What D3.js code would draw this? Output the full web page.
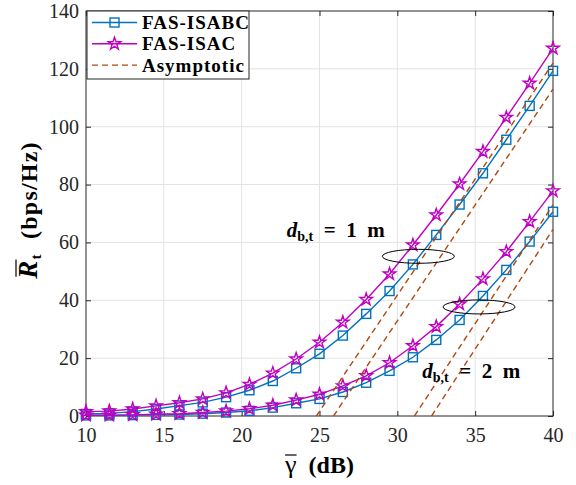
<!DOCTYPE html>
<html>
<head>
<meta charset="utf-8">
<script src="https://cdn.jsdelivr.net/npm/d3@7"></script>
<style>
  body { margin: 0; background: #fff; }
  svg { display: block; font-family: 'Liberation Serif', 'DejaVu Serif', serif; }
  svg text { font-family: 'Liberation Serif', 'DejaVu Serif', serif; }
</style>
</head>
<body>
<div id="chart"></div>
<script>
// SNR grid (dB)
const gammaDb = [10, 11.5, 13, 14.5, 16, 17.5, 19, 20.5, 22, 23.5, 25, 26.5, 28, 29.5, 31, 32.5, 34, 35.5, 37, 38.5, 40];

// d_bt = 1 m
const isabc1m = [0.7, 0.9, 1.5, 2.4, 3.6, 4.7, 6.5, 8.9, 12.1, 16.5, 21.5, 27.8, 35.3, 43.2, 52.4, 62.6, 73.1, 83.9, 95.5, 107.2, 119.3];
const isac1m  = [1.5, 1.7, 2.4, 3.5, 4.6, 5.9, 8.0, 10.9, 14.8, 19.7, 25.5, 32.4, 40.3, 49.1, 59.1, 69.5, 80.2, 91.4, 103.2, 115.0, 127.1];

// d_bt = 2 m
const isabc2m = [0.2, 0.2, 0.3, 0.4, 0.5, 0.8, 1.2, 1.8, 2.9, 4.4, 5.9, 8.3, 11.5, 15.6, 20.3, 26.3, 33.2, 41.5, 50.5, 60.3, 70.6];
const isac2m  = [0.3, 0.3, 0.4, 0.6, 0.8, 1.2, 1.7, 2.5, 3.7, 5.5, 7.5, 10.4, 13.9, 18.4, 24.3, 30.9, 38.7, 47.4, 56.8, 67.2, 77.8];

// asymptotic lines: [start dB, start rate], [end dB, end rate]
const asym1mA = [[24.8, 0], [40, 122]];
const asym1mB = [[25.9, 0], [40, 113]];
const asym2mA = [[31.1, 0], [40, 73]];
const asym2mB = [[32.2, 0], [40, 64.5]];

const xTicks = [10, 15, 20, 25, 30, 35, 40];
const yTicks = [0, 20, 40, 60, 80, 100, 120, 140];

const colors = { isabc: '#0072bd', isac: '#c000c0', asym: '#b0480f' };

const width = 576;
const height = 485;
const margin = { top: 11, right: 23, bottom: 69, left: 86 };

const svg = d3.select('#chart')
  .append('svg')
  .attr('width', width)
  .attr('height', height);

const xScale = d3.scaleLinear().domain([10, 40]).range([margin.left, width - margin.right]);
const yScale = d3.scaleLinear().domain([0, 140]).range([height - margin.bottom, margin.top]);

// grid
const grid = svg.append('g').attr('stroke', '#e3e3e3').attr('stroke-width', 1);
grid.selectAll('.gx').data(xTicks.slice(1, -1)).join('line')
  .attr('x1', (d) => xScale(d)).attr('x2', (d) => xScale(d))
  .attr('y1', yScale(0)).attr('y2', yScale(140));
grid.selectAll('.gy').data(yTicks.slice(1, -1)).join('line')
  .attr('y1', (d) => yScale(d)).attr('y2', (d) => yScale(d))
  .attr('x1', xScale(10)).attr('x2', xScale(40));

// axes
const serif = "'Liberation Serif', 'DejaVu Serif', serif";
function styleAxis(g) {
  g.attr('font-family', serif).attr('font-size', 20);
  g.select('.domain').remove();
  g.selectAll('.tick line').attr('stroke', '#262626');
  g.selectAll('.tick text').attr('fill', '#262626')
    .attr('font-family', serif).style('font-size', '20px');
}

svg.append('g')
  .attr('transform', `translate(0,${yScale(0)})`)
  .call(d3.axisBottom(xScale).tickValues(xTicks).tickSizeInner(-5).tickSizeOuter(0).tickPadding(12))
  .call(styleAxis);

svg.append('g')
  .attr('transform', `translate(${xScale(10)},0)`)
  .call(d3.axisLeft(yScale).tickValues(yTicks).tickSizeInner(-5).tickSizeOuter(0).tickPadding(7))
  .call(styleAxis);

svg.append('g')
  .attr('transform', `translate(0,${yScale(140)})`)
  .call(d3.axisTop(xScale).tickValues(xTicks).tickSizeInner(-5).tickSizeOuter(0).tickFormat(''))
  .call(styleAxis);

svg.append('g')
  .attr('transform', `translate(${xScale(40)},0)`)
  .call(d3.axisRight(yScale).tickValues(yTicks).tickSizeInner(-5).tickSizeOuter(0).tickFormat(''))
  .call(styleAxis);

svg.append('rect')
  .attr('x', xScale(10)).attr('y', yScale(140))
  .attr('width', xScale(40) - xScale(10)).attr('height', yScale(0) - yScale(140))
  .attr('fill', 'none').attr('stroke', '#262626').attr('stroke-width', 1);

// curves
const line = d3.line().x((d) => xScale(d[0])).y((d) => yScale(d[1]));
const plot = svg.append('g');

function drawSeries(values, color, marker) {
  const pts = gammaDb.map((g, i) => [g, values[i]]);
  plot.append('path').datum(pts)
    .attr('d', line).attr('fill', 'none')
    .attr('stroke', color).attr('stroke-width', 1.4);
  const g = plot.append('g');
  if (marker === 'square') {
    g.selectAll('rect').data(pts).join('rect')
      .attr('x', (d) => xScale(d[0]) - 4.5).attr('y', (d) => yScale(d[1]) - 4.5)
      .attr('width', 9).attr('height', 9)
      .attr('fill', 'none').attr('stroke', color).attr('stroke-width', 1.4);
  } else {
    g.selectAll('path').data(pts).join('path')
      .attr('transform', (d) => `translate(${xScale(d[0])},${yScale(d[1])})`)
      .attr('d', d3.symbol(d3.symbolStar, 48))
      .attr('fill', 'none').attr('stroke', color).attr('stroke-width', 1.4);
  }
}

drawSeries(isabc1m, colors.isabc, 'square');
drawSeries(isabc2m, colors.isabc, 'square');
drawSeries(isac1m, colors.isac, 'star');
drawSeries(isac2m, colors.isac, 'star');

[asym1mA, asym1mB, asym2mA, asym2mB].forEach((seg) => {
  plot.append('path').datum(seg)
    .attr('d', line).attr('fill', 'none')
    .attr('stroke', colors.asym).attr('stroke-width', 1.4)
    .attr('stroke-dasharray', '6,4');
});

// annotations
function ellipseAt(dbx, rate) {
  svg.append('ellipse')
    .attr('cx', xScale(dbx)).attr('cy', yScale(rate))
    .attr('rx', 36).attr('ry', 7)
    .attr('fill', 'none').attr('stroke', '#000').attr('stroke-width', 1);
}
ellipseAt(31.35, 55.2);
ellipseAt(35.25, 37.7);

function distLabel(px, py, dist) {
  const t = svg.append('text').attr('x', px).attr('y', py)
    .style('font-size', '21px').style('font-weight', 'bold').attr('fill', '#000')
    .style('white-space', 'pre');
  t.append('tspan').style('font-style', 'italic').text('d');
  t.append('tspan').attr('dy', 4).style('font-size', '14px').text('b,t');
  t.append('tspan').attr('dy', -4).text(`  =  ${dist}  m`);
}
distLabel(xScale(22.9), yScale(62), 1);
distLabel(xScale(31.6), yScale(13), 2);

// legend
const legendItems = [
  { label: 'FAS-ISABC', color: colors.isabc, marker: 'square' },
  { label: 'FAS-ISAC', color: colors.isac, marker: 'star' },
  { label: 'Asymptotic', color: colors.asym, marker: null },
];
const legend = svg.append('g').attr('transform', `translate(${xScale(10) + 1},${yScale(140)})`);
legend.append('rect').attr('x', 0).attr('y', 0).attr('width', 162).attr('height', 68)
  .attr('fill', '#fff').attr('stroke', '#262626').attr('stroke-width', 1);
legendItems.forEach((d, i) => {
  const cy = 11.5 + i * 21.3;
  const row = legend.append('g').attr('transform', `translate(0,${cy})`);
  row.append('line').attr('x1', 5).attr('x2', 50).attr('y1', 0).attr('y2', 0)
    .attr('stroke', d.color).attr('stroke-width', 1.4)
    .attr('stroke-dasharray', d.marker ? null : '6,4');
  if (d.marker === 'square') {
    row.append('rect').attr('x', 23).attr('y', -4.5).attr('width', 9).attr('height', 9)
      .attr('fill', 'none').attr('stroke', d.color).attr('stroke-width', 1.4);
  } else if (d.marker === 'star') {
    row.append('path').attr('transform', 'translate(27.5,0)')
      .attr('d', d3.symbol(d3.symbolStar, 48))
      .attr('fill', 'none').attr('stroke', d.color).attr('stroke-width', 1.4);
  }
  row.append('text').attr('x', 55).attr('y', 6.5)
    .style('font-size', '19px').style('font-weight', 'bold').attr('fill', '#000')
    .style('letter-spacing', '1px')
    .text(d.label);
});

// axis titles
const xTitle = svg.append('text')
  .attr('x', (xScale(10) + xScale(40)) / 2).attr('y', 473)
  .attr('text-anchor', 'middle').style('font-size', '24px').attr('fill', '#000')
  .style('white-space', 'pre');
xTitle.append('tspan').style('font-size', '26px').text('γ');
xTitle.append('tspan').style('font-weight', 'bold').text('  (dB)');
{
  const b = xTitle.node().getExtentOfChar(0);
  svg.append('line').attr('x1', b.x).attr('x2', b.x + b.width)
    .attr('y1', b.y + 5).attr('y2', b.y + 5)
    .attr('stroke', '#000').attr('stroke-width', 1.2);
}

const yTitleG = svg.append('g').attr('transform', 'translate(37,210) rotate(-90)');
const yTitle = yTitleG.append('text')
  .attr('x', 0).attr('y', 0).attr('text-anchor', 'middle')
  .style('font-size', '24px').style('font-weight', 'bold').attr('fill', '#000')
  .style('letter-spacing', '1.2px')
  .style('white-space', 'pre');
yTitle.append('tspan').style('font-style', 'italic').style('font-size', '27px').text('R');
yTitle.append('tspan').attr('dy', 4).style('font-size', '15px').text('t');
yTitle.append('tspan').attr('dy', -4).text('  (bps/Hz)');
{
  const b = yTitle.node().getExtentOfChar(0);
  yTitleG.append('line').attr('x1', b.x + 2).attr('x2', b.x + b.width)
    .attr('y1', b.y + 3).attr('y2', b.y + 3)
    .attr('stroke', '#000').attr('stroke-width', 1.2);
}
</script>
</body>
</html>
